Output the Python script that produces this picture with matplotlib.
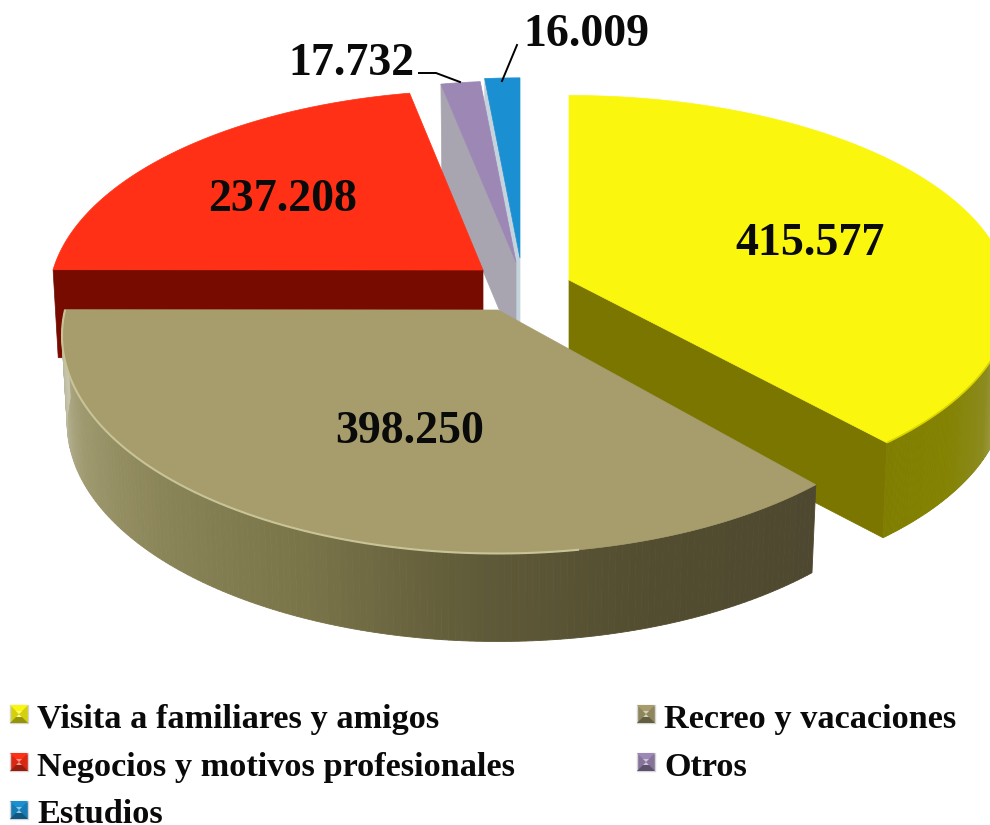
import numpy as np
import matplotlib
matplotlib.use('Agg')
import matplotlib.pyplot as plt
from matplotlib.colors import LinearSegmentedColormap

# Data
categories = ['Visita a familiares y amigos', 'Recreo y vacaciones',
              'Negocios y motivos profesionales', 'Otros', 'Estudios']
values = [415577, 398250, 237208, 17732, 16009]
value_labels = ['415.577', '398.250', '237.208', '17.732', '16.009']

top_colors = ['#FAF60E', '#A69C6C', '#FF3015', '#9C87B5', '#1A90D2']
face_colors = ['#7A7600', '#4E4830', '#780B00', '#A8A5B0', '#C5D3DD']
rim_colors = [['#7F7E00', '#838200', '#8C8B20', '#B8B880', '#D8D8B8'],
              ['#4E4830', '#524C30', '#5F5A38', '#7A7549', '#8A8558', '#A09A70', '#C8C6B0'],
              ['#780B00', '#780B00'], ['#A8A5B0', '#A8A5B0'], ['#C5D3DD', '#C5D3DD']]

# pixel geometry of each exploded slice: apex x, apex y, half width, half height, perspective, depth
geometry = [(569, 280, 439, 203, 0.100, 95),
            (498, 310, 433, 215, 0.117, 88),
            (483, 270, 430, 205, 0.140, 88),
            (516, 262, 420, 197, 0.088, 88),
            (520, 258, 415, 196, 0.088, 88)]

# cumulative angles, clockwise from 12 o'clock
fractions = np.array(values) / np.sum(values)
edges = np.concatenate([[0], np.cumsum(fractions)]) * 2 * np.pi


def project(t, g):
    cx, cy, b, a, k, d = g
    u, v = np.sin(t), -np.cos(t)
    s = 1 / (1 - k * v)
    return cx + b * u * s, cy + a * v * s


def lower(x, y, g):
    return g[0] + (x - g[0]) * 0.988, y + g[5]


def draw_top(ax, i, t0, t1):
    g = geometry[i]
    t = np.linspace(t0, t1, 200)
    x, y = project(t, g)
    ax.fill(np.r_[g[0], x], np.r_[g[1], y], color=top_colors[i], lw=0.5)
    return t, x, y


def draw_face(ax, i, t, color):
    g = geometry[i]
    x, y = project(t, g)
    xb, yb = lower(x, y, g)
    ax0, ay0 = lower(g[0], g[1], g)
    ax.fill([g[0], x, xb, ax0], [g[1], y, yb, ay0], color=color, lw=0.5)


def draw_rim(ax, i, t0, t1, n=160):
    g = geometry[i]
    cmap = LinearSegmentedColormap.from_list('rim', rim_colors[i])
    t = np.linspace(t0, t1, n + 1)
    x, y = project(t, g)
    xb, yb = lower(x, y, g)
    for j in range(n):
        c = cmap(j / (n - 1))
        ax.fill([x[j], x[j + 1], xb[j + 1], xb[j]],
                [y[j], y[j + 1], yb[j + 1], yb[j]], color=c, lw=0.6)


fig = plt.figure(figsize=(9.9, 8.25), dpi=100)
ax = fig.add_axes([0, 0, 1, 1])
ax.set_xlim(0, 990)
ax.set_ylim(825, 0)
ax.axis('off')

# back slices first
draw_face(ax, 4, edges[4], face_colors[4])
draw_top(ax, 4, edges[4], edges[5])
draw_face(ax, 3, edges[3], face_colors[3])
draw_top(ax, 3, edges[3], edges[4])
draw_face(ax, 2, edges[2], face_colors[2])
draw_top(ax, 2, edges[2], edges[3])

# yellow slice: rim runs from the cut corner round to the right side
draw_face(ax, 0, edges[1], face_colors[0])
draw_rim(ax, 0, edges[1], np.pi / 2)
t, x, y = draw_top(ax, 0, edges[0], edges[1])
mask = t > np.pi / 2
ax.plot(x[mask], y[mask], color='#D8D400', lw=1.2, solid_capstyle='butt')

# big front slice
draw_rim(ax, 1, edges[1], edges[2])
t, x, y = draw_top(ax, 1, edges[1], edges[2])
mask = t > np.radians(170)
ax.plot(x[mask], y[mask], color='#C8C498', lw=1.5, solid_capstyle='butt')

# value labels
font = dict(family='Liberation Serif', fontweight='bold', color='#0A0A0A')
label_pos = [(810, 255), (410, 443), (283, 211), (351, 75), (586, 46)]
for lab, (lx, ly) in zip(value_labels, label_pos):
    ax.text(lx, ly, lab, fontsize=33, ha='center', va='baseline', **font)

# leader lines
ax.plot([419, 436, 460], [73, 73, 82], color='black', lw=1.4)
ax.plot([517, 502], [45, 81], color='black', lw=1.4)

# legend
legend_pos = [(10, 714, 728), (637, 714, 728), (10, 762, 776), (637, 762, 776), (10, 810, 823)]
order = [0, 1, 2, 3, 4]


def shade(c, f):
    rgb = np.array(matplotlib.colors.to_rgb(c))
    return tuple(rgb * f if f <= 1 else rgb + (1 - rgb) * (f - 1))


for i, (lx, ly, base) in zip(order, legend_pos):
    s = 18
    l, r, t, b = lx, lx + s, ly - s / 2, ly + s / 2
    mx, my = lx + s / 2, ly
    ax.fill([l, r, r, l], [t, t, b, b], color=shade(top_colors[i], 0.85), lw=1.0, ec='#D4D4D4')
    ax.fill([l, r, mx], [t, t, my], color=shade(top_colors[i], 1.0), lw=0)
    ax.fill([l, r, mx], [b, b, my], color=shade(top_colors[i], 0.6), lw=0)
    ax.fill([mx - 3, mx + 3, mx - 3, mx + 3], [my - 3, my - 3, my + 3, my + 3],
            color=shade(top_colors[i], 1.5), lw=0)
    ax.text(lx + 27, base, categories[i], fontsize=24.7, ha='left', va='baseline', **font)

fig.savefig('out.png', dpi=100)
